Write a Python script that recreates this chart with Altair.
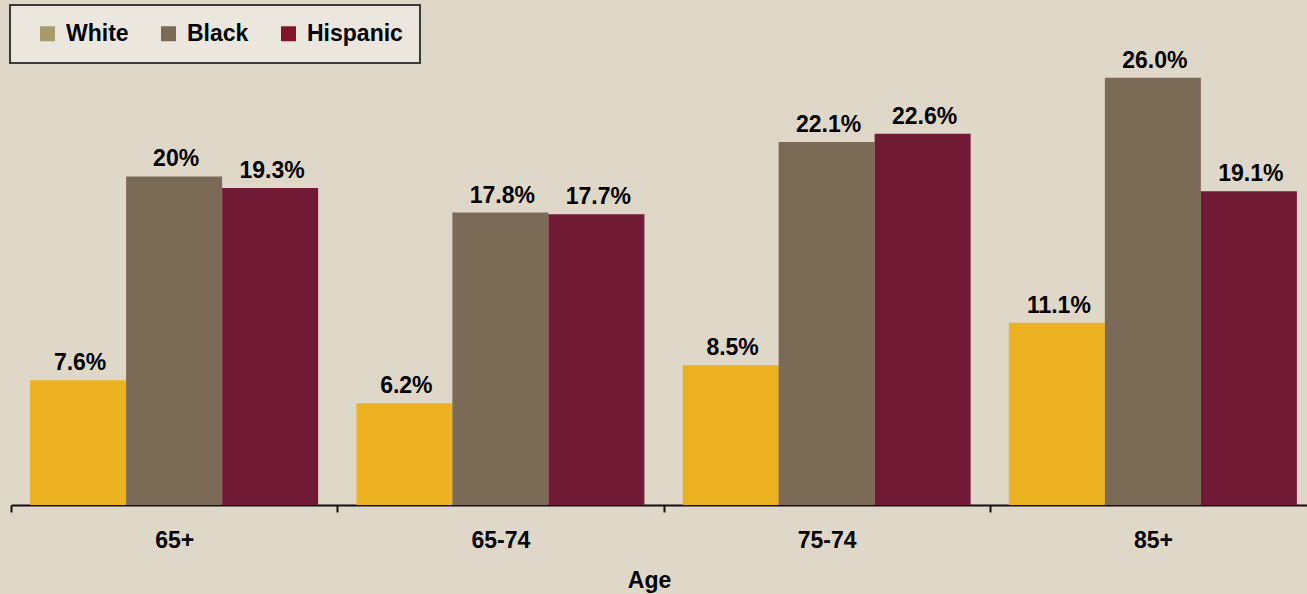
import altair as alt
import pandas as pd

ages = ["65+", "65-74", "75-74", "85+"]
groups = ["White", "Black", "Hispanic"]
white = [7.6, 6.2, 8.5, 11.1]
black = [20.0, 17.8, 22.1, 26.0]
hispanic = [19.3, 17.7, 22.6, 19.1]
white_lbl = ["7.6%", "6.2%", "8.5%", "11.1%"]
black_lbl = ["20%", "17.8%", "22.1%", "26.0%"]
hispanic_lbl = ["19.3%", "17.7%", "22.6%", "19.1%"]

bar_colors = ["#ebb121", "#7b6a56", "#701a36"]
legend_colors = ["#a99a6a", "#7b6a56", "#821628"]

rows = []
for vals, lbls, g in [(white, white_lbl, "White"), (black, black_lbl, "Black"), (hispanic, hispanic_lbl, "Hispanic")]:
    for a, v, l in zip(ages, vals, lbls):
        rows.append({"Age": a, "Group": g, "Value": v, "Label": l})
df = pd.DataFrame(rows)

FONT = "Liberation Sans"
FS = 23

x_enc = alt.X(
    "Age:N",
    sort=ages,
    scale=alt.Scale(paddingInner=0, paddingOuter=0, range=[0, 1305]),
    axis=alt.Axis(
        title="Age",
        labelAngle=0,
        labelFont=FONT,
        labelFontSize=FS,
        labelFontWeight="bold",
        labelColor="#000000",
        labelPadding=17,
        tickBand="extent",
        tickSize=7,
        tickWidth=2,
        tickColor="#111111",
        domainColor="#111111",
        domainWidth=2,
        titleFont=FONT,
        titleFontSize=FS,
        titleFontWeight="bold",
        titleColor="#000000",
        titlePadding=17,
        titleX=638,
    ),
)
xo = alt.XOffset("Group:N", sort=groups, scale=alt.Scale(paddingInner=0, paddingOuter=0.199))
y_enc = alt.Y("Value:Q", scale=alt.Scale(domain=[0, 28], nice=False, zero=True), axis=None)

base = alt.Chart(df)

bars = base.mark_bar().encode(
    x=x_enc,
    xOffset=xo,
    y=y_enc,
    color=alt.Color("Group:N", scale=alt.Scale(domain=groups, range=bar_colors), legend=None),
)

labels = base.mark_text(
    baseline="alphabetic", dy=-10, dx=2, font=FONT, fontSize=FS, fontWeight="bold", color="#000000"
).encode(x=x_enc, xOffset=xo, y=y_enc, text="Label:N")

legend_layer = base.mark_square(opacity=0).encode(
    x=x_enc,
    xOffset=xo,
    y=y_enc,
    color=alt.Color(
        "Group:N",
        scale=alt.Scale(domain=groups, range=legend_colors),
        legend=alt.Legend(
            title=None,
            orient="none",
            legendX=-1,
            legendY=-40,
            direction="horizontal",
            symbolType="square",
            symbolSize=225,
            symbolStrokeWidth=0,
            symbolOpacity=1,
            symbolOffset=9,
            labelFont=FONT,
            labelFontSize=FS,
            labelFontWeight="bold",
            labelColor="#000000",
            labelOffset=7,
            columnPadding=19,
            padding=17,
            fillColor="#ebe7de",
            strokeColor="#3a3a3a",
        ),
    ),
)

chart = (
    alt.layer(bars, labels, legend_layer)
    .resolve_scale(color="independent")
    .properties(
        width=1296,
        height=460,
        background="#dfd7c8",
        autosize=alt.AutoSizeParams(type="none"),
        padding={"left": 11, "top": 45, "right": 0, "bottom": 89},
    )
    .configure_view(stroke=None)
    .configure_legend(strokeWidth=2)
)

chart.save("out.html", embed_options={"renderer": "svg", "actions": False})
